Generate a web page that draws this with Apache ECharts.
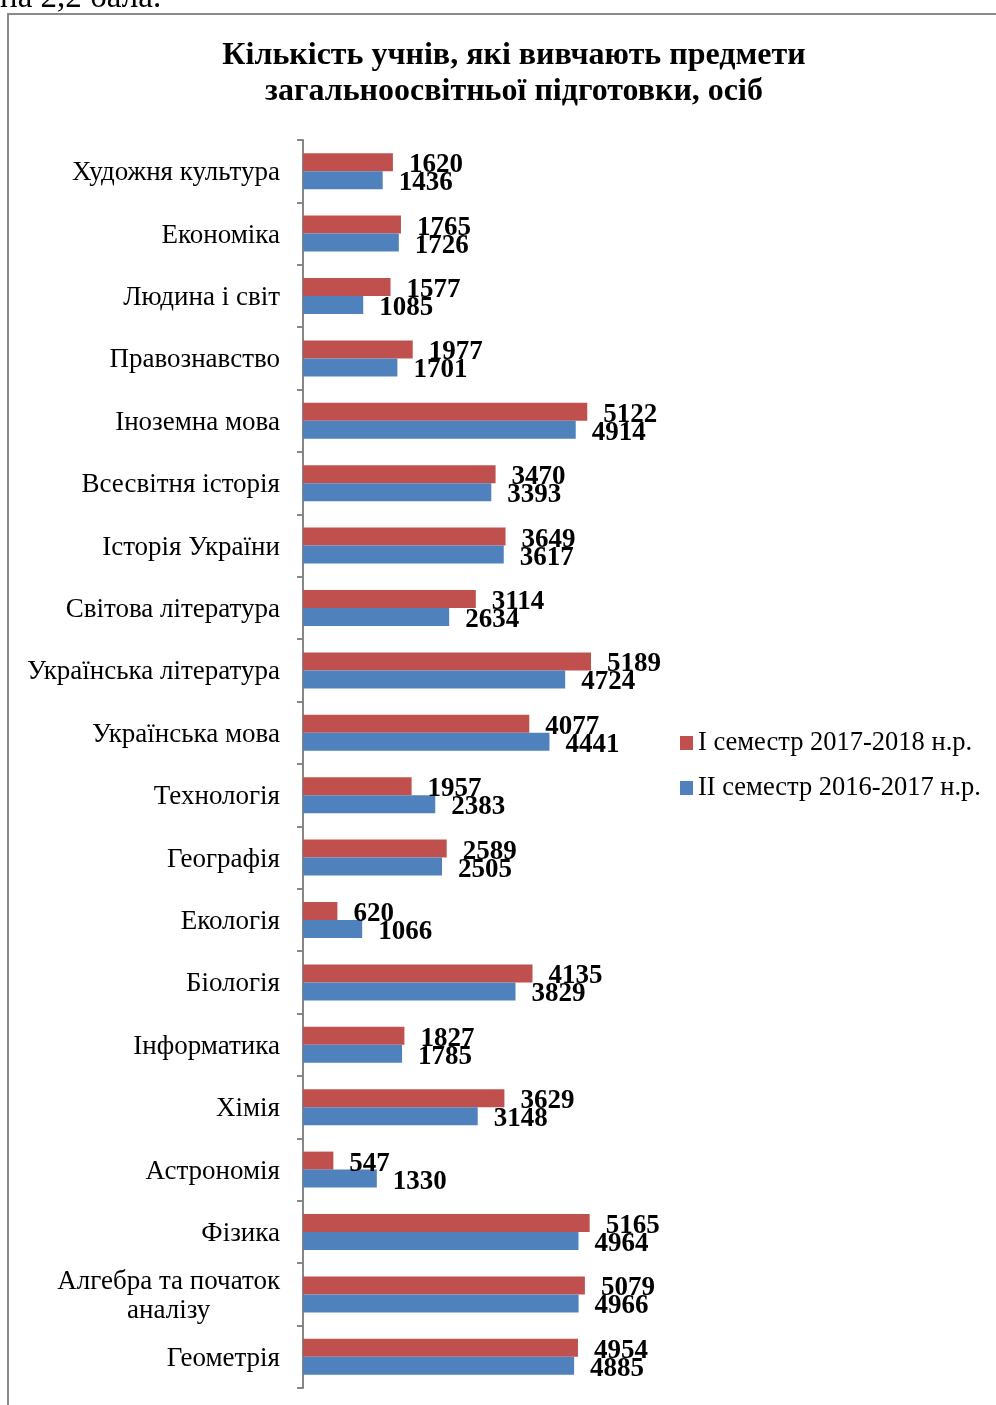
<!DOCTYPE html>
<html>
<head>
<meta charset="utf-8">
<script src="https://cdn.jsdelivr.net/npm/echarts@6/dist/echarts.min.js"></script>
<style>
html,body{margin:0;padding:0;background:#fff;}
#chart{width:996px;height:1405px;}
</style>
</head>
<body>
<div id="chart"></div>
<script>
const categories = [
  'Художня культура','Економіка','Людина і світ','Правознавство','Іноземна мова',
  'Всесвітня історія','Історія України','Світова література','Українська література','Українська мова',
  'Технологія','Географія','Екологія','Біологія','Інформатика',
  'Хімія','Астрономія','Фізика','Алгебра та початок\nаналізу','Геометрія'
];
const semester1_2017_2018 = [1620,1765,1577,1977,5122,3470,3649,3114,5189,4077,1957,2589,620,4135,1827,3629,547,5165,5079,4954];
const semester2_2016_2017 = [1436,1726,1085,1701,4914,3393,3617,2634,4724,4441,2383,2505,1066,3829,1785,3148,1330,4964,4966,4885];
const seriesNames = ['I семестр 2017-2018 н.р.','II семестр 2016-2017 н.р.'];
const titleText = 'Кількість учнів, які вивчають предмети\nзагальноосвітньої підготовки, осіб';
const topText = 'на 2,2 бала.';

const serif = '"Liberation Serif","Times New Roman",serif';
const chart = echarts.init(document.getElementById('chart'));
const labelStyle = {
  show: true, position: 'right', distance: 16, offset: [0, 3],
  fontFamily: serif, fontWeight: 'bold', fontSize: 27, color: '#000'
};
chart.setOption({
  animation: false,
  backgroundColor: '#fff',
  title: {
    text: titleText, left: 509, top: 33, textAlign: 'center',
    textStyle: {fontFamily: serif, fontWeight: 'bold', fontSize: 32, lineHeight: 36, color: '#000'}
  },
  legend: {
    orient: 'vertical', left: 680, top: 728, padding: 0, itemWidth: 13, itemHeight: 14, itemGap: 15,
    icon: 'rect',
    textStyle: {fontFamily: serif, fontSize: 26.5, lineHeight: 30, color: '#000', padding: [0,0,0,0]},
    data: seriesNames
  },
  grid: {left: 303, top: 140, width: 333, height: 1248, containLabel: false},
  xAxis: {type: 'value', min: 0, max: 6000, show: false},
  yAxis: {
    type: 'category', inverse: true, data: categories,
    axisLine: {show: true, lineStyle: {color: '#868686', width: 2}},
    axisTick: {show: true, length: 6, lineStyle: {color: '#868686', width: 2}},
    axisLabel: {
      margin: 23, fontFamily: serif, fontSize: 27, color: '#000', lineHeight: 29,
      padding: [4, 0, 0, 0],
      formatter: function (v) { return v.split('\n').map(s => '{c|' + s + '}').join('\n'); },
      rich: {c: {align: 'center', fontFamily: serif, fontSize: 27, lineHeight: 29, color: '#000'}}
    },
    splitLine: {show: false}
  },
  series: [
    {name: seriesNames[0], type: 'bar', data: semester1_2017_2018, barWidth: 18, barGap: '0%',
     itemStyle: {color: '#C0504D'}, label: labelStyle},
    {name: seriesNames[1], type: 'bar', data: semester2_2016_2017, barWidth: 18, barGap: '0%',
     itemStyle: {color: '#4F81BD'}, label: labelStyle}
  ],
  graphic: [
    {type: 'rect', shape: {x: 8, y: 14, width: 1100, height: 1500},
     style: {fill: 'none', stroke: '#8a8a8a', lineWidth: 2}, z: -1},
    {type: 'text', left: 0, top: -18,
     style: {text: topText, font: '33px ' + serif, fill: '#000'}}
  ]
});
</script>
</body>
</html>
